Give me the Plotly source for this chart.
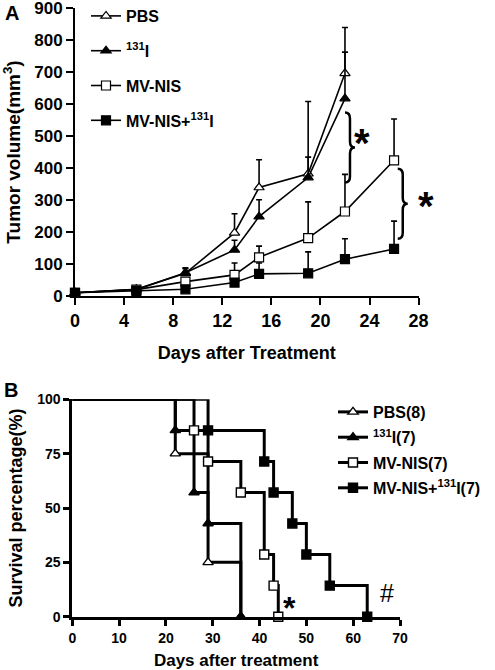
import plotly.graph_objects as go

FONT = "Liberation Sans, Arial, sans-serif"

# ---------------- Panel A: tumor volume ----------------
days_pbs = [0, 5, 9, 13, 15, 19, 22]
vol_pbs = [10, 21, 71, 197, 339, 382, 696]
err_pbs = [0, 4, 17, 60, 87, 226, 143]

days_i131 = [0, 5, 9, 13, 15, 19, 22]
vol_i131 = [10, 20, 73, 144, 248, 370, 617]
err_i131 = [0, 4, 12, 30, 53, 64, 145]

days_mvnis = [0, 5, 9, 13, 15, 19, 22, 26]
vol_mvnis = [10, 20, 45, 66, 121, 181, 264, 424]
err_mvnis = [0, 4, 8, 37, 35, 113, 116, 129]

days_combo = [0, 5, 9, 13, 15, 19, 22, 26]
vol_combo = [10, 16, 21, 42, 69, 71, 115, 147]
err_combo = [0, 3, 6, 12, 34, 67, 64, 87]

names_a = ["PBS", "<sup>131</sup>I", "MV-NIS", "MV-NIS+<sup>131</sup>I"]
xticks_a = [0, 4, 8, 12, 16, 20, 24, 28]
yticks_a = [0, 100, 200, 300, 400, 500, 600, 700, 800, 900]

# ---------------- Panel B: survival ----------------
t_pbs = [22, 29, 36]
s_pbs = [75, 25, 0]
t_i131 = [22, 26, 29, 36]
s_i131 = [85.7, 57.1, 42.9, 0]
t_mvnis = [26, 29, 36, 41, 43, 44]
s_mvnis = [85.7, 71.4, 57.1, 28.6, 14.3, 0]
t_combo = [29, 41, 43, 47, 50, 55, 63]
s_combo = [85.7, 71.4, 57.1, 42.9, 28.6, 14.3, 0]

names_b = ["PBS(8)", "<sup>131</sup>I(7)", "MV-NIS(7)", "MV-NIS+<sup>131</sup>I(7)"]
xticks_b = [0, 10, 20, 30, 40, 50, 60, 70]
yticks_b = [0, 25, 50, 75, 100]

fig = go.Figure()

styles = [
    dict(symbol="triangle-up", color="white"),
    dict(symbol="triangle-up", color="black"),
    dict(symbol="square", color="white"),
    dict(symbol="square", color="black"),
]

series_a = [
    (days_pbs, vol_pbs, err_pbs),
    (days_i131, vol_i131, err_i131),
    (days_mvnis, vol_mvnis, err_mvnis),
    (days_combo, vol_combo, err_combo),
]

for i, ((x, y, e), nm, st) in enumerate(zip(series_a, names_a, styles)):
    fig.add_trace(go.Scatter(
        x=x, y=y, name=nm, mode="lines+markers", xaxis="x", yaxis="y",
        legend="legend", legendgroup="a%d" % i, cliponaxis=False,
        line=dict(color="black", width=1.6),
        marker=dict(symbol=st["symbol"], color=st["color"], size=9,
                    line=dict(color="black", width=1.2)),
        error_y=dict(type="data", array=e, arrayminus=[0] * len(e), symmetric=False,
                     color="black", thickness=1.6, width=3),
    ))

series_b = [(t_pbs, s_pbs), (t_i131, s_i131), (t_mvnis, s_mvnis), (t_combo, s_combo)]
for i, ((t, s), nm, st) in enumerate(zip(series_b, names_b, styles)):
    # initial segment from start (100%) to first event
    fig.add_trace(go.Scatter(
        x=[0, t[0]], y=[100, s[0]], mode="lines", line_shape="hv", showlegend=False,
        xaxis="x2", yaxis="y2", cliponaxis=False, hoverinfo="skip",
        line=dict(color="black", width=3),
    ))
    fig.add_trace(go.Scatter(
        x=t, y=s, name=nm, mode="lines+markers", line_shape="hv",
        xaxis="x2", yaxis="y2", legend="legend2", legendgroup="b%d" % i, cliponaxis=False,
        line=dict(color="black", width=3),
        marker=dict(symbol=st["symbol"], color=st["color"], size=9,
                    line=dict(color="black", width=1.4)),
    ))

axis_common = dict(showgrid=False, zeroline=False, showline=True, linecolor="black",
                   ticks="outside", tickcolor="black", mirror=False, automargin=False,
                   ticklabeloverflow="allow")

fig.update_layout(
    width=495, height=670, margin=dict(l=0, r=0, t=0, b=0, autoexpand=False),
    paper_bgcolor="white", plot_bgcolor="white",
    font=dict(family=FONT, color="black"),
    xaxis=dict(domain=[75 / 495, 418.6 / 495], range=[0, 28], tickvals=xticks_a,
               linewidth=2, tickwidth=2, ticklen=7, anchor="y",
               tickfont=dict(size=18, weight="bold"),
               title=dict(text="Days after Treatment", font=dict(size=18, weight="bold"), standoff=17),
               **axis_common),
    yaxis=dict(domain=[(670 - 296) / 670, (670 - 8) / 670], range=[0, 900], tickvals=yticks_a,
               linewidth=2, tickwidth=2, ticklen=7, anchor="x",
               tickfont=dict(size=17, weight="bold"),
               title=dict(text="Tumor volume(mm<sup>3</sup>)", font=dict(size=19, weight="bold"), standoff=10),
               **axis_common),
    xaxis2=dict(domain=[72.3 / 495, 400 / 495], range=[0, 70], tickvals=xticks_b,
                linewidth=3, tickwidth=3, ticklen=6, anchor="y2",
                tickfont=dict(size=14, weight="bold"),
                title=dict(text="Days after treatment", font=dict(size=17, weight="bold"), standoff=11),
                **axis_common),
    yaxis2=dict(domain=[(670 - 616.7) / 670, (670 - 399.3) / 670], range=[0, 100], tickvals=yticks_b,
                linewidth=3, tickwidth=3, ticklen=6, anchor="x2",
                tickfont=dict(size=14, weight="bold"),
                title=dict(text="Survival percentage(%)", font=dict(size=18, weight="bold"), standoff=10),
                **axis_common),
    legend=dict(x=86 / 495, y=1 + 1 / 670, xanchor="left", yanchor="top",
                traceorder="grouped", tracegroupgap=11, bgcolor="rgba(0,0,0,0)",
                font=dict(size=16, weight="bold", family=FONT)),
    legend2=dict(x=333 / 495, y=1 - 395 / 670, xanchor="left", yanchor="top",
                 traceorder="grouped", tracegroupgap=1.5, bgcolor="rgba(0,0,0,0)",
                 font=dict(size=16, weight="bold", family=FONT)),
    showlegend=True,
)

# Panel labels
fig.add_annotation(text="A", x=12 / 495, y=1 - 13 / 670, xref="paper", yref="paper",
                   xanchor="center", yanchor="middle",
                   showarrow=False, font=dict(size=20, weight="bold"))
fig.add_annotation(text="B", x=11 / 495, y=1 - 390 / 670, xref="paper", yref="paper",
                   xanchor="center", yanchor="middle",
                   showarrow=False, font=dict(size=20, weight="bold"))

# Braces (significance brackets)
brace_path = "M 0,35 Q 5,35 5,29 L 5,6 Q 5,0 10,0 Q 5,0 5,-6 L 5,-29 Q 5,-35 0,-35"
for xa, ya in [(22.0, 464), (26.3, 288)]:
    fig.add_shape(type="path", xref="x", yref="y", xsizemode="pixel", ysizemode="pixel",
                  xanchor=xa, yanchor=ya, path=brace_path,
                  line=dict(color="black", width=2.5))

# Stars / symbols
for xa, ya, txt, sz, xr, yr, xs in [(23.4, 508, "*", 40, "x", "y", 0), (28, 310, "*", 40, "x", "y", 7),
                                    (46.5, 7.5, "*", 32, "x2", "y2", 0)]:
    fig.add_annotation(text=txt, x=xa, y=ya, xref=xr, yref=yr, showarrow=False,
                       xshift=xs, yshift=-0.23 * sz, font=dict(size=sz, weight="bold"))
fig.add_annotation(text="#", x=67.2, y=10.9, xref="x2", yref="y2", showarrow=False,
                   font=dict(size=25))

fig.write_html("out.html", config={"displayModeBar": False},
               post_script="document.body.style.margin='0';")
